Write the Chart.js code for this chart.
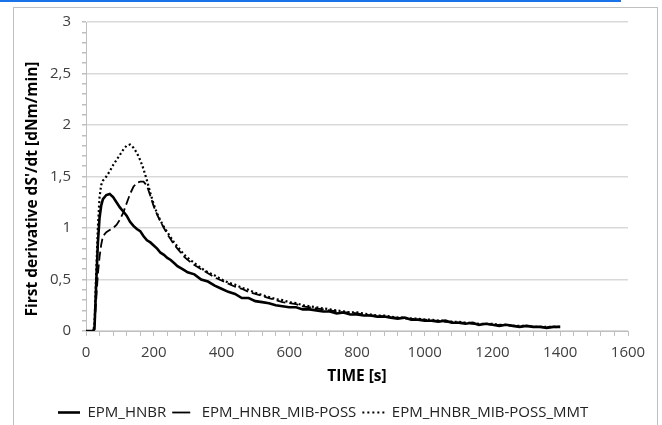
<!DOCTYPE html>
<html>
<head>
<meta charset="utf-8">
<script src="https://cdn.jsdelivr.net/npm/chart.js@4/dist/chart.umd.min.js"></script>
<style>
  html, body { margin: 0; padding: 0; background: #fff; }
  #wrap { position: relative; width: 662px; height: 425px; overflow: hidden; }
  #blue { position: absolute; left: 0; top: 0; width: 621px; height: 2px; background: #1a73e8; }
  #box { position: absolute; left: 13px; top: 7px; width: 643px; height: 440px; border: 1px solid #c0c0c0; }
  canvas { position: absolute; left: 0; top: 0; }
</style>
</head>
<body>
<div id="wrap">
  <div id="blue"></div>
  <div id="box"></div>
  <canvas id="c" width="662" height="425"></canvas>
</div>
<script>
const timeS = [0,10,20,25,30,35,40,45,50,
  60,70,80,90,100,110,120,130,140,150,160,170,180,190,200,210,220,230,240,250,260,270,280,290,300,
  320,340,360,380,400,420,440,460,480,500,520,540,560,580,600,620,640,660,680,700,720,740,760,780,800,
  820,840,860,880,900,920,940,960,980,1000,1020,1040,1060,1080,1100,1120,1140,1160,1180,1200,
  1220,1240,1260,1280,1300,1320,1340,1360,1380,1400];

const epmHnbr = [0,0,0,0.02,0.45,0.85,1.10,1.22,1.28,
  1.32,1.33,1.30,1.25,1.20,1.16,1.12,1.06,1.02,0.99,0.97,0.92,0.88,0.86,0.83,0.80,0.76,0.74,0.71,0.69,0.66,0.63,0.61,0.59,0.57,
  0.55,0.50,0.48,0.44,0.41,0.38,0.36,0.32,0.32,0.29,0.28,0.27,0.25,0.24,0.23,0.23,0.21,0.21,0.20,0.19,0.19,0.17,0.18,0.16,0.16,
  0.15,0.15,0.14,0.14,0.13,0.12,0.13,0.11,0.11,0.10,0.10,0.09,0.10,0.08,0.08,0.07,0.08,0.06,0.07,0.06,
  0.05,0.06,0.05,0.04,0.05,0.04,0.04,0.03,0.04,0.04];

const epmHnbrMibPoss = [0,0,0,0.02,0.30,0.55,0.72,0.84,0.92,
  0.96,0.98,1.00,1.03,1.08,1.15,1.24,1.33,1.40,1.44,1.45,1.45,1.41,1.31,1.21,1.13,1.06,1.00,0.94,0.89,0.84,0.80,0.76,0.72,0.69,
  0.64,0.60,0.56,0.52,0.49,0.46,0.43,0.41,0.38,0.36,0.34,0.32,0.30,0.28,0.27,0.26,0.24,0.23,0.22,0.21,0.20,0.19,0.18,0.18,0.17,
  0.16,0.15,0.15,0.14,0.13,0.13,0.12,0.12,0.11,0.11,0.10,0.10,0.09,0.09,0.08,0.08,0.07,0.07,0.07,0.06,
  0.06,0.06,0.05,0.05,0.05,0.04,0.04,0.04,0.04,0.03];

const epmHnbrMibPossMmt = [0,0,0,0.05,0.55,1.00,1.30,1.42,1.46,
  1.50,1.55,1.61,1.66,1.71,1.76,1.80,1.81,1.78,1.73,1.66,1.57,1.46,1.34,1.23,1.14,1.07,1.01,0.96,0.91,0.86,0.82,0.78,0.74,0.71,
  0.66,0.61,0.57,0.54,0.50,0.47,0.45,0.42,0.40,0.37,0.35,0.33,0.31,0.30,0.28,0.27,0.25,0.24,0.23,0.22,0.21,0.20,0.19,0.18,0.18,
  0.17,0.16,0.15,0.15,0.14,0.13,0.13,0.12,0.12,0.11,0.11,0.10,0.10,0.09,0.09,0.08,0.08,0.07,0.07,0.07,
  0.06,0.06,0.05,0.05,0.05,0.04,0.04,0.04,0.04,0.04];

const seriesNames = ['EPM_HNBR', 'EPM_HNBR_MIB-POSS', 'EPM_HNBR_MIB-POSS_MMT'];
const xAxisTitle = 'TIME [s]';
const yAxisTitle = "First derivative dS'/dt [dNm/min]";
const xLabelStep = 200;
const yLabelStep = 0.5;

function pts(vals) { return timeS.map((t, i) => ({ x: t, y: vals[i] })); }

const FONT = "'Open Sans', sans-serif";
const legendDash = [[], [18, 40], [2, 3]];

const yTitlePlugin = {
  id: 'yTitle',
  afterLayout(chart) {
    if (chart.legend) { chart.legend.left = 52; }
  },
  afterDraw(chart) {
    const ctx = chart.ctx;
    ctx.save();
    ctx.translate(33, 189);
    ctx.rotate(-Math.PI / 2);
    ctx.font = "bold 15.5px 'Open Sans', sans-serif";
    ctx.fillStyle = '#000';
    ctx.textAlign = 'center';
    ctx.textBaseline = 'middle';
    ctx.fillText(yAxisTitle, 0, 0);
    ctx.restore();
  }
};

new Chart(document.getElementById('c'), {
  type: 'line',
  data: {
    datasets: [
      { label: seriesNames[0], data: pts(epmHnbr), borderColor: '#000', backgroundColor: '#000', borderWidth: 2.6, borderDash: [] },
      { label: seriesNames[1], data: pts(epmHnbrMibPoss), borderColor: '#000', backgroundColor: '#000', borderWidth: 1.8, borderDash: [9, 4] },
      { label: seriesNames[2], data: pts(epmHnbrMibPossMmt), borderColor: '#000', backgroundColor: '#000', borderWidth: 2.2, borderDash: [2, 2.5] }
    ]
  },
  plugins: [yTitlePlugin],
  options: {
    responsive: false,
    animation: false,
    devicePixelRatio: 1,
    elements: { point: { radius: 0 }, line: { tension: 0, fill: false } },
    layout: { padding: { left: 14, right: 34, top: 22, bottom: -5 } },
    plugins: {
      legend: {
        position: 'bottom',
        align: 'start',
        labels: {
          usePointStyle: true,
          pointStyle: 'line',
          pointStyleWidth: 22,
          color: '#222',
          font: { family: FONT, size: 15 },
          padding: 6,
          generateLabels: chart => {
            const items = Chart.defaults.plugins.legend.labels.generateLabels(chart);
            items.forEach((it, i) => {
              it.lineDash = legendDash[i];
              it.lineWidth = chart.data.datasets[i].borderWidth;
              it.strokeStyle = '#000';
              it.pointStyle = 'line';
            });
            return items;
          }
        }
      },
      tooltip: { enabled: false }
    },
    scales: {
      x: {
        type: 'linear',
        min: 0, max: 1600,
        ticks: {
          stepSize: 40, autoSkip: false, maxRotation: 0,
          color: '#404040', font: { family: FONT, size: 15 }, padding: 8,
          callback: v => (Math.abs(v % xLabelStep) < 1e-6 ? String(v) : '')
        },
        grid: { drawOnChartArea: false, drawTicks: true, tickLength: 5, color: '#bfbfbf' },
        border: { color: '#bfbfbf', width: 1 },
        title: { display: true, text: xAxisTitle, color: '#000', font: { family: FONT, size: 15.5, weight: 'bold' }, padding: { top: 2, bottom: 13 } },
        afterFit: s => { s.height = 68; }
      },
      y: {
        min: 0, max: 3,
        ticks: {
          stepSize: 0.1, autoSkip: false,
          color: '#404040', font: { family: FONT, size: 15 }, padding: 11,
          callback: v => {
            const r = Math.round(v / yLabelStep);
            if (Math.abs(v / yLabelStep - r) > 1e-6) return '';
            return String(Math.round(v * 10) / 10).replace('.', ',');
          }
        },
        grid: {
          color: ctx => {
            const v = ctx.tick ? ctx.tick.value : 0;
            return Math.abs(v / yLabelStep - Math.round(v / yLabelStep)) < 1e-6 ? '#d9d9d9' : 'rgba(0,0,0,0)';
          },
          lineWidth: 1.5,
          tickColor: '#bfbfbf',
          tickLength: 4
        },
        border: { color: '#bfbfbf', width: 1 },
        title: { display: false },
        afterFit: s => { s.width = 72; }
      }
    }
  }
});
</script>
</body>
</html>
